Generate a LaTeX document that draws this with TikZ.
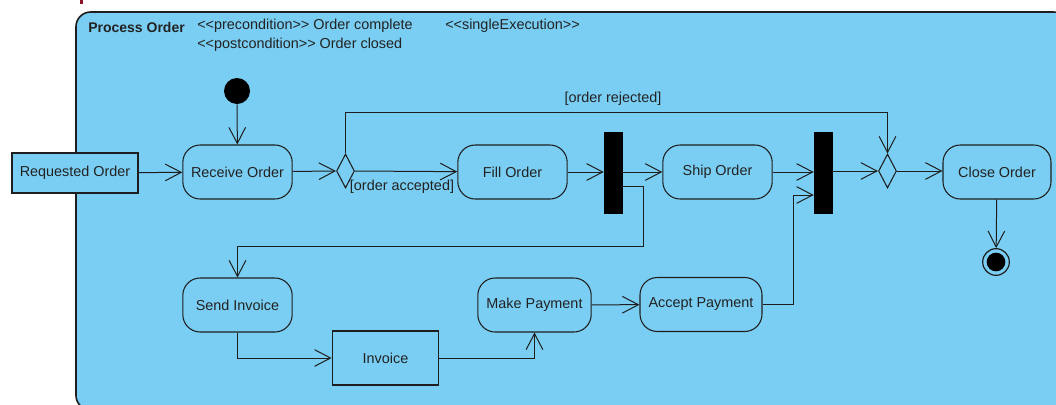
\documentclass[tikz,border=0pt]{standalone}
\usepackage{fontspec}
\setmainfont{Liberation Sans}
\usetikzlibrary{arrows.meta,shapes.geometric,calc}

\definecolor{umlblue}{RGB}{122,206,243}
\definecolor{umlline}{RGB}{30,30,30}
\definecolor{umltext}{RGB}{34,34,34}
\definecolor{markred}{RGB}{140,20,40}

\tikzset{
  base/.style={font=\fontsize{10.8}{13}\selectfont, text=umltext},
  action/.style={base, draw=umlline, line width=0.8pt, fill=umlblue,
    rounded corners=13pt, minimum height=40.5pt, inner sep=0pt},
  objnode/.style={base, draw=umlline, line width=0.8pt, fill=umlblue,
    minimum height=30pt, inner sep=0pt},
  bar/.style={draw=black, fill=black, minimum width=13.5pt,
    minimum height=60.75pt, inner sep=0pt},
  decision/.style={diamond, draw=umlline, line width=0.8pt, fill=umlblue,
    minimum width=13.5pt, minimum height=25.5pt, inner sep=0pt},
  flow/.style={draw=umlline, line width=0.75pt,
    -{Straight Barb[length=12pt, width=12.5pt, line width=0.75pt]}},
  guard/.style={base, inner sep=0pt},
  header/.style={base, anchor=west, inner sep=0pt}
}

\begin{document}
\begin{tikzpicture}[x=0.75pt, y=-0.75pt]
  \useasboundingbox (0,0) rectangle (1056,404);
  \clip (0,0) rectangle (1056,404);
  \fill[white] (0,0) rectangle (1056,404);
  \fill[markred] (80,0) rectangle (83,4);

  % activity frame
  \draw[draw=umlline, line width=1.2pt, fill=umlblue, rounded corners=11pt]
    (76,12) rectangle (1068,410);

  % frame header
  \node[header, font=\fontsize{10.5}{13}\selectfont\bfseries] (title) at (88,27) {Process Order};
  \node[header] (pre) at (197,26) {<{}<precondition>{}> Order complete};
  \node[header] (single) at (445,26) {<{}<singleExecution>{}>};
  \node[header] (post) at (197,45) {<{}<postcondition>{}> Order closed};

  % nodes
  \node[objnode, minimum width=94.5pt] (req) at (75,173) {Requested Order};
  \node[circle, fill=black, minimum size=19.5pt, inner sep=0pt] (init) at (237,91) {};
  \node[action, minimum width=82pt] (receive) at (237.5,172) {Receive Order};
  \node[decision] (d1) at (345.5,171) {};
  \node[action, minimum width=82pt] (fill) at (512.5,172) {Fill Order};
  \node[bar] (fork) at (613,172.5) {};
  \node[action, minimum width=82pt] (ship) at (717.5,172) {Ship Order};
  \node[bar] (join) at (823,172.5) {};
  \node[decision] (d2) at (887.5,171) {};
  \node[action, minimum width=81pt] (close) at (997,172) {Close Order};
  \node[circle, draw=umlline, line width=0.9pt, fill=umlblue, minimum size=20pt, inner sep=0pt] (final) at (996,262) {};
  \fill[black] (final.center) circle (7pt);

  \node[action, minimum width=82pt] (send) at (237.5,305) {Send Invoice};
  \node[objnode, minimum width=80pt, minimum height=40.5pt] (invoice) at (385.5,358) {Invoice};
  \node[action, minimum width=85pt] (make) at (534.5,305) {Make Payment};
  \node[action, minimum width=91.5pt] (accept) at (701,304.5) {Accept Payment};

  % routing helpers
  \coordinate (rejY) at (0,112);
  \coordinate (forkOutY) at (0,186);
  \coordinate (invBend) at (643,246);
  \coordinate (payBend) at (793,195);

  % flows
  \draw[flow] (req) -- (receive);
  \draw[flow] (init) -- (receive);
  \draw[flow] (receive) -- (d1.west);
  \draw[flow] (d1.east) -- (fill);
  \draw[flow] (d1.north) |- (d2.north |- rejY) -- (d2.north);
  \draw[flow] (fill) -- (fork.west |- fill);
  \draw[flow] (fork.east |- ship) -- (ship);
  \draw[flow] (fork.east |- forkOutY) -| (invBend) -| (send.north);
  \draw[flow] (ship) -- (join.west |- ship);
  \draw[flow] (join.east |- d2) -- (d2.west);
  \draw[flow] (d2.east) -- (close.west |- d2);
  \draw[flow] (close) -- (final);
  \draw[flow] (send.south) |- (invoice.west);
  \draw[flow] (invoice.east) -| (make.south);
  \draw[flow] (make) -- (accept);
  \draw[flow] (accept.east) -| (payBend) -- (join.west |- payBend);

  % guards
  \node[guard] (acc) at (402,187) {[order accepted]};
  \node[guard] (rej) at (613,99) {[order rejected]};
\end{tikzpicture}
\end{document}
